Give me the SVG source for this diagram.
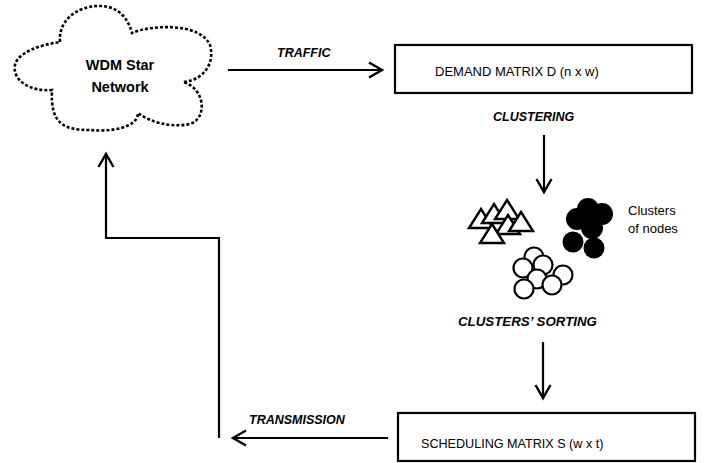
<svg xmlns="http://www.w3.org/2000/svg" width="707" height="463" viewBox="0 0 707 463">
<style>
.lbl{font-family:"Liberation Sans",Arial,sans-serif;font-weight:bold;font-style:italic;font-size:12.5px;fill:#000}
.txt{font-family:"Liberation Sans",Arial,sans-serif;font-size:13px;fill:#000}
.cloudtxt{font-family:"Liberation Sans",Arial,sans-serif;font-weight:bold;font-size:14.5px;fill:#000}
.box{fill:#fff;stroke:#000;stroke-width:2.2}
.conn{fill:none;stroke:#000;stroke-width:2.2;marker-end:url(#arr)}
.tri{fill:#fff;stroke:#000;stroke-width:2.4;stroke-linejoin:miter}
.wc{fill:#fff;stroke:#000;stroke-width:2.2}
.bc{fill:#000}
</style>
<defs>
<marker id="arr" markerUnits="userSpaceOnUse" viewBox="-15 -10 17 20" refX="0" refY="0" markerWidth="17" markerHeight="20" orient="auto" overflow="visible">
<path d="M-13,-7.5 L0,0 L-13,7.5" fill="none" stroke="#000" stroke-width="2.4"/>
</marker>
</defs>
<rect width="707" height="463" fill="#fff"/>

<g id="cloud">
<path d="M60,42 C58,15 85,5 100,6 C118,6 128,18 132,33 C150,25 200,22 210,45 C215,62 205,80 183,82 C205,88 208,118 190,124 C170,128 150,122 138,113 C138,128 110,132 90,130 C65,130 50,125 52,90 C30,92 12,80 15,65 C18,52 40,45 60,42 Z" fill="#fff" stroke="#000" stroke-width="2.6" stroke-dasharray="3 2"/>
<text class="cloudtxt" x="120" y="70" text-anchor="middle">WDM Star</text>
<text class="cloudtxt" x="120" y="92" text-anchor="middle">Network</text>
</g>

<g id="demand">
<rect class="box" x="395" y="45" width="297" height="48"/>
<text class="txt" x="435" y="76">DEMAND MATRIX D (n x w)</text>
</g>

<g id="clusters">
<polygon class="tri" points="481,209 493,228 469,228"/>
<polygon class="tri" points="494,204 506,223 482,223"/>
<polygon class="tri" points="507,200 519,219 495,219"/>
<polygon class="tri" points="508,215 520,234 496,234"/>
<polygon class="tri" points="521,212 533,231 509,231"/>
<polygon class="tri" points="492,224 504,243 480,243"/>
<circle class="bc" cx="588" cy="209" r="11"/>
<circle class="bc" cx="602" cy="214" r="11"/>
<circle class="bc" cx="577" cy="219" r="11"/>
<circle class="bc" cx="592" cy="228" r="11"/>
<circle class="bc" cx="573" cy="242" r="10.5"/>
<circle class="bc" cx="594" cy="248" r="10.5"/>
<circle class="wc" cx="534" cy="257" r="9.5"/>
<circle class="wc" cx="543" cy="265" r="9.5"/>
<circle class="wc" cx="523" cy="268" r="9.5"/>
<circle class="wc" cx="563" cy="275" r="9.5"/>
<circle class="wc" cx="537" cy="279" r="9.5"/>
<circle class="wc" cx="552" cy="285" r="9.5"/>
<circle class="wc" cx="524" cy="289" r="9.5"/>
<text class="txt" x="628" y="215">Clusters</text>
<text class="txt" x="628" y="233">of nodes</text>
</g>

<g id="scheduling">
<rect class="box" x="398" y="413" width="297" height="48"/>
<text class="txt" x="421" y="448" style="font-size:12.6px">SCHEDULING MATRIX S (w x t)</text>
</g>

<g id="connectors">
<path class="conn" d="M228,70 L382,70"/>
<path class="conn" d="M544,135 L544,192"/>
<path class="conn" d="M543,342 L543,398"/>
<path class="conn" d="M388,438 L233,438"/>
<path class="conn" d="M219,438 L219,238 L106,238 L106,154"/>
<text class="lbl" x="277" y="57">TRAFFIC</text>
<text class="lbl" x="493" y="121">CLUSTERING</text>
<text class="lbl" x="458" y="326" style="font-size:13.3px">CLUSTERS’ SORTING</text>
<text class="lbl" x="249" y="424">TRANSMISSION</text>
</g>
</svg>
